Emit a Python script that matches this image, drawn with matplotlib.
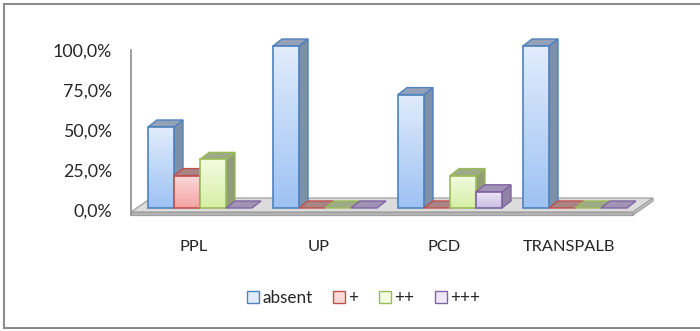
import numpy as np
import matplotlib
matplotlib.use("Agg")
import matplotlib.pyplot as plt
from matplotlib.patches import Polygon, Patch
from matplotlib.lines import Line2D
from matplotlib.colors import LinearSegmentedColormap

# ---- data ----
categories = ["PPL", "UP", "PCD", "TRANSPALB"]
series_names = ["absent", "+", "++", "+++"]
absent = [50.0, 100.0, 70.0, 100.0]
plus1 = [20.0, 0.0, 0.0, 0.0]
plus2 = [30.0, 0.0, 20.0, 0.0]
plus3 = [0.0, 0.0, 10.0, 0.0]
series_values = [absent, plus1, plus2, plus3]
tick_values = [0, 25, 50, 75, 100]
tick_labels = ["0,0%", "25,0%", "50,0%", "75,0%", "100,0%"]

# ---- styles (front light, front dark, edge, top, side) ----
styles = [
    ("#e1ecfc", "#9ec2f3", "#4f81bd", "#93a2b8", "#7e8fa8"),
    ("#fcd9d9", "#f4a3a3", "#c0504d", "#a88484", "#9c7c7c"),
    ("#f3fbe0", "#d6efa6", "#9bbb59", "#9ea986", "#919c7a"),
    ("#eee8f6", "#cbbde3", "#8064a2", "#a193b6", "#8f82a5"),
]

plt.rcParams["font.family"] = ["Lato", "DejaVu Sans"]
fig = plt.figure(figsize=(7.0, 3.31), dpi=100)
ax = fig.add_axes([0, 0, 1, 1])
ax.set_xlim(-1.6, 4.0)
ax.set_ylim(-75.93, 128.4)
ax.axis("off")

PX_X = 1 / 125.0   # category units per pixel
PX_Y = 1 / 1.62    # percent units per pixel

bar_w = 26 * PX_X
ddx, ddy = 9 * PX_X, 7 * PX_Y          # bar depth offsets
fdx, fdy = 20 * PX_X, 14 * PX_Y        # floor depth offsets
n_cat = len(categories)
x_idx = np.arange(n_cat)

# ---- floor slab ----
fl_left = -0.552
fl_right = n_cat - 0.536
fl_front = -2.5
fl_th = 3 * PX_Y
top_face = Polygon([(fl_left, fl_front), (fl_right, fl_front),
                    (fl_right + fdx, fl_front + fdy), (fl_left + fdx, fl_front + fdy)],
                   closed=True, facecolor="#dcdcdc", edgecolor="#a0a0a0", lw=0.9, zorder=1)
front_face = Polygon([(fl_left, fl_front), (fl_right, fl_front),
                      (fl_right, fl_front - fl_th), (fl_left, fl_front - fl_th)],
                     closed=True, facecolor="#b8b8b8", edgecolor="#a0a0a0", lw=0.9, zorder=1)
right_face = Polygon([(fl_right, fl_front), (fl_right + fdx, fl_front + fdy),
                      (fl_right + fdx, fl_front + fdy - fl_th), (fl_right, fl_front - fl_th)],
                     closed=True, facecolor="#c8c8c8", edgecolor="#a0a0a0", lw=0.9, zorder=1)
for p in (top_face, front_face, right_face):
    ax.add_patch(p)

# value axis line
ax.plot([fl_left, fl_left], [fl_front - fl_th, 97.5], color="#8c8c8c", lw=1.2, zorder=1)

# ---- 3D columns ----
grad = np.linspace(0, 1, 64).reshape(-1, 1)
z = 2
for ci in range(n_cat):
    for si, vals in enumerate(series_values):
        light, dark, edge, topc, sidec = styles[si]
        v = vals[ci]
        x0 = x_idx[ci] - 0.416 + si * bar_w
        if v > 0:
            # side face
            ax.add_patch(Polygon([(x0 + bar_w, 0), (x0 + bar_w + ddx, ddy),
                                  (x0 + bar_w + ddx, v + ddy), (x0 + bar_w, v)],
                                 closed=True, facecolor=sidec, edgecolor=edge,
                                 lw=1.0, zorder=z))
        # top face (flat for zero values)
        ax.add_patch(Polygon([(x0, v), (x0 + bar_w, v),
                              (x0 + bar_w + ddx, v + ddy), (x0 + ddx, v + ddy)],
                             closed=True, facecolor=topc, edgecolor=edge,
                             lw=1.0, zorder=z))
        if v > 0:
            bar = ax.bar(x0, v, width=bar_w, align="edge", bottom=0,
                         facecolor="none", edgecolor=edge, lw=1.2, zorder=z + 0.2)[0]
            cmap = LinearSegmentedColormap.from_list("g", [dark, light])
            im = ax.imshow(grad, extent=(x0, x0 + bar_w, 0, v), origin="lower",
                           cmap=cmap, aspect="auto", zorder=z + 0.1,
                           interpolation="bilinear")
            im.set_clip_path(bar)
        z += 1

ax.set_xlim(-1.6, 4.0)
ax.set_ylim(-75.93, 128.4)

# ---- value tick labels (placed on the back wall scale) ----
wall_scale = 1.6 / 1.62
for tv, tl in zip(tick_values, tick_labels):
    ax.text(-0.704, tv * wall_scale - 2.0, tl, ha="right", va="center",
            fontsize=12.8, color="#262626")

# ---- category labels ----
for ci, name in enumerate(categories):
    ax.text(x_idx[ci] - 0.048, -24.1, name, ha="center", va="center",
            fontsize=11.8, color="#262626")

# ---- legend ----
handles = [Patch(facecolor=s[0], edgecolor=s[2], lw=1.0) for s in styles]
fig.legend(handles, series_names, loc="center", bbox_to_anchor=(0.519, 0.10),
           ncol=4, frameon=False, fontsize=12.3, handlelength=0.7, handleheight=0.7,
           handletextpad=0.2, columnspacing=1.2, labelcolor="#262626")

# ---- chart border ----
bc = "#8c8c8c"
fig.add_artist(Line2D([4 / 700, 4 / 700], [1 - 4 / 331, 1 - 328 / 331], color=bc, lw=1.5))
fig.add_artist(Line2D([4 / 700, 1.0], [1 - 4 / 331, 1 - 4 / 331], color=bc, lw=1.5))
fig.add_artist(Line2D([4 / 700, 1.0], [1 - 328 / 331, 1 - 328 / 331], color=bc, lw=1.5))

fig.savefig("out.png", dpi=100)
